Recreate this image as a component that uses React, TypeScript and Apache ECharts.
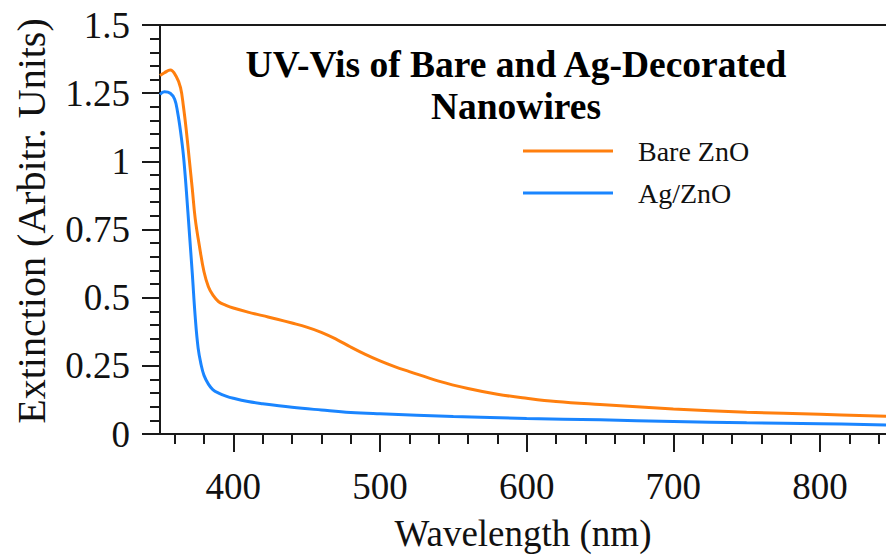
import React, { useEffect, useRef } from "react";
import * as echarts from "echarts";

const bareWavelength = [350, 353, 357, 361, 364, 366, 368, 370, 372, 374, 377, 380, 383, 386, 390, 395, 400, 410, 420, 430, 440, 450, 460, 470, 480, 490, 500, 510, 520, 540, 560, 580, 600, 620, 650, 700, 750, 800, 845];
const bareValues = [1.315, 1.325, 1.335, 1.312, 1.27, 1.2, 1.11, 1.005, 0.9, 0.79, 0.685, 0.595, 0.54, 0.51, 0.485, 0.472, 0.462, 0.447, 0.434, 0.421, 0.407, 0.392, 0.373, 0.348, 0.319, 0.292, 0.268, 0.247, 0.229, 0.194, 0.167, 0.146, 0.131, 0.119, 0.108, 0.092, 0.08, 0.072, 0.065];

const agWavelength = [350, 353, 357, 360, 362, 364, 366, 368, 370, 372, 374, 376, 378, 380, 383, 386, 390, 395, 400, 410, 420, 440, 460, 480, 500, 550, 600, 650, 700, 750, 800, 845];
const agValues = [1.245, 1.255, 1.25, 1.228, 1.18, 1.11, 1.02, 0.89, 0.74, 0.59, 0.43, 0.315, 0.255, 0.215, 0.183, 0.163, 0.15, 0.139, 0.131, 0.119, 0.111, 0.098, 0.088, 0.079, 0.074, 0.064, 0.057, 0.052, 0.046, 0.041, 0.038, 0.033];

const xMajorTicks = [400, 500, 600, 700, 800];
const xMinorTicks = [360, 380, 420, 440, 460, 480, 520, 540, 560, 580, 620, 640, 660, 680, 720, 740, 760, 780, 820, 840];

const titleText = "UV-Vis of Bare and Ag-Decorated\nNanowires";
const xName = "Wavelength (nm)";
const yName = "Extinction (Arbitr. Units)";
const seriesNames = ["Bare ZnO", "Ag/ZnO"];

const FONT = "'Liberation Serif', 'Times New Roman', serif";
const AXIS_COLOR = "#1a1a1a";

export default function App() {
  const ref = useRef<HTMLDivElement>(null);
  useEffect(() => {
    if (!ref.current) return;
    const chart = echarts.init(ref.current, undefined, { renderer: "svg" });
    const xMin = 350;
    const xMax = 845;
    chart.setOption({
      animation: false,
      backgroundColor: "#ffffff",
      grid: { left: 160, right: 0, top: 25, bottom: 122, containLabel: false, outerBoundsMode: "none" },
      graphic: [
        {
          type: "text",
          x: 516,
          y: 43,
          style: {
            text: titleText,
            textAlign: "center",
            textVerticalAlign: "top",
            fontFamily: FONT,
            fontWeight: "bold",
            fontSize: 37.5,
            lineHeight: 42,
            fill: "#000",
          },
        },
        {
          type: "text",
          x: 31,
          y: 221,
          rotation: Math.PI / 2,
          style: {
            text: yName,
            textAlign: "center",
            textVerticalAlign: "middle",
            fontFamily: FONT,
            fontSize: 40,
            fill: "#111",
          },
        },
      ],
      legend: {
        orient: "vertical",
        left: 523,
        top: 137,
        padding: 0,
        itemWidth: 90,
        itemHeight: 3,
        itemGap: 14,
        icon: "rect",
        data: seriesNames,
        textStyle: {
          fontFamily: FONT,
          fontSize: 28,
          lineHeight: 28,
          color: "#111",
          padding: [0, 0, 0, 20],
        },
      },
      xAxis: [
        {
          type: "value",
          min: xMin,
          max: xMax,
          position: "bottom",
          name: xName,
          nameLocation: "middle",
          nameGap: 81,
          nameTextStyle: { fontFamily: FONT, fontSize: 37, lineHeight: 37, color: "#111" },
          axisLine: { show: true, lineStyle: { color: AXIS_COLOR, width: 2 } },
          axisTick: { show: true, length: 18, customValues: xMajorTicks, lineStyle: { color: AXIS_COLOR, width: 2 } },
          axisLabel: { show: true, customValues: xMajorTicks, margin: 34, fontFamily: FONT, fontSize: 37, color: "#111" },
          splitLine: { show: false },
        },
        {
          type: "value",
          min: xMin,
          max: xMax,
          position: "bottom",
          axisLine: { show: false },
          axisTick: { show: true, length: 10, customValues: xMinorTicks, lineStyle: { color: AXIS_COLOR, width: 2 } },
          axisLabel: { show: false },
          splitLine: { show: false },
        },
        {
          type: "value",
          min: xMin,
          max: xMax,
          position: "top",
          axisLine: { show: true, lineStyle: { color: AXIS_COLOR, width: 2 } },
          axisTick: { show: false },
          axisLabel: { show: false },
          splitLine: { show: false },
        },
      ],
      yAxis: {
        type: "value",
        min: 0,
        max: 1.5,
        interval: 0.25,
        axisLine: { show: true, lineStyle: { color: AXIS_COLOR, width: 2 } },
        axisTick: { show: true, length: 18, lineStyle: { color: AXIS_COLOR, width: 2 } },
        minorTick: { show: true, splitNumber: 5, length: 10, lineStyle: { color: AXIS_COLOR, width: 2 } },
        axisLabel: { margin: 30, fontFamily: FONT, fontSize: 37, color: "#111" },
        splitLine: { show: false },
      },
      series: [
        {
          name: seriesNames[0],
          type: "line",
          xAxisIndex: 0,
          data: bareWavelength.map((w, i) => [w, bareValues[i]]),
          showSymbol: false,
          symbol: "none",
          smooth: 0.4,
          lineStyle: { color: "#ff7f0e", width: 3 },
          itemStyle: { color: "#ff7f0e" },
        },
        {
          name: seriesNames[1],
          type: "line",
          xAxisIndex: 0,
          data: agWavelength.map((w, i) => [w, agValues[i]]),
          showSymbol: false,
          symbol: "none",
          smooth: 0.4,
          lineStyle: { color: "#1a85ff", width: 3 },
          itemStyle: { color: "#1a85ff" },
        },
      ],
    });
    return () => chart.dispose();
  }, []);
  return (
    <div
      ref={ref}
      style={{ position: "absolute", left: 0, top: 0, width: 886, height: 556, background: "#fff" }}
    />
  );
}
